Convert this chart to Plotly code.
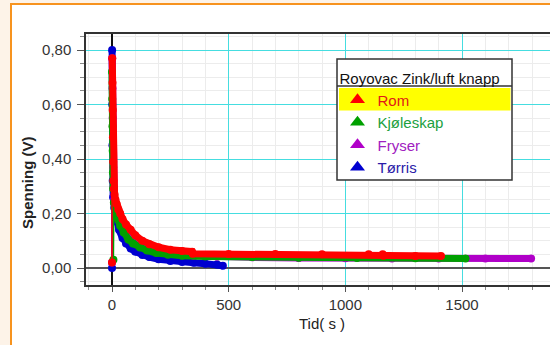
import plotly.graph_objects as go

# ---------------- data ----------------
rom_t = [0, 1, 2, 3, 4, 5, 6, 8, 11, 15, 20, 27, 35, 45, 60, 80, 100, 130, 160, 200,
         250, 300, 343, 346, 500, 700, 900, 1100, 1160, 1163, 1300, 1410]
rom_v = [0.02, 0.77, 0.68, 0.58, 0.48, 0.39, 0.32, 0.29, 0.27, 0.25, 0.235, 0.215, 0.20, 0.18,
         0.16, 0.14, 0.12, 0.10, 0.087, 0.076, 0.067, 0.062, 0.06, 0.052, 0.051, 0.051, 0.05,
         0.05, 0.05, 0.045, 0.044, 0.044]

kjol_t = [0, 1, 2, 3, 4, 5, 6, 8, 12, 18, 25, 35, 50, 70, 90, 120, 150, 190, 240, 300,
          400, 600, 800, 1050, 1300, 1515]
kjol_v = [0.72, 0.62, 0.52, 0.43, 0.35, 0.29, 0.03, 0.24, 0.22, 0.20, 0.18, 0.155, 0.13, 0.105,
          0.09, 0.075, 0.064, 0.055, 0.049, 0.045, 0.042, 0.04, 0.038, 0.037, 0.036, 0.035]

frys_t = [0, 1, 2, 3, 4, 5, 7, 10, 15, 20, 30, 45, 60, 80, 100, 130, 170, 220, 280, 350,
          450, 600, 800, 1000, 1200, 1400, 1600, 1796]
frys_v = [0.02, 0.77, 0.66, 0.55, 0.45, 0.37, 0.30, 0.25, 0.22, 0.20, 0.175, 0.15, 0.13, 0.11,
          0.095, 0.08, 0.068, 0.058, 0.05, 0.045, 0.041, 0.039, 0.037, 0.036, 0.035, 0.035,
          0.035, 0.035]

torr_t = [0, 0.5, 1, 2, 3, 5, 10, 20, 30, 45, 60, 80, 100, 130, 160, 200, 250, 300, 350,
          400, 450, 475]
torr_v = [0.0, 0.80, 0.60, 0.45, 0.32, 0.26, 0.22, 0.17, 0.14, 0.11, 0.09, 0.072, 0.06, 0.048,
          0.04, 0.032, 0.026, 0.022, 0.019, 0.016, 0.013, 0.008]

series_names = ["Tørris", "Fryser", "Kjøleskap", "Rom"]
series_t = [torr_t, frys_t, kjol_t, rom_t]
series_v = [torr_v, frys_v, kjol_v, rom_v]
series_colors = ["#0000d0", "#b000c8", "#00a000", "#ff0000"]
text_colors = ["#2a1aa8", "#a020c0", "#20a040", "#e01818"]
jump_points = [[0], [0], [6], [0]]  # points joined only by the thin connecting line

y_ticks = [0.0, 0.2, 0.4, 0.6, 0.8]
x_ticks = [0, 500, 1000, 1500]
legend_title = "Royovac Zink/luft knapp"

# ---------------- figure ----------------
W, H = 550, 345
ML, MT, MB, MR = 86, 34, 60, 0
PW, PH = W - ML - MR, H - MT - MB


def px(x):
    return (x - ML) / PW


def py(y):
    return (H - MB - y) / PH


fig = go.Figure()

for name, t, v, col, jumps in zip(series_names, series_t, series_v, series_colors, jump_points):
    band = [None if i in jumps else val for i, val in enumerate(v)]
    fig.add_trace(go.Scatter(x=t, y=band, mode="lines", line=dict(color=col, width=7),
                             connectgaps=False, showlegend=False, hoverinfo="skip"))
    fig.add_trace(go.Scatter(x=t, y=v, mode="lines+markers", line=dict(color=col, width=1.5),
                             marker=dict(color=col, size=8), showlegend=False, name=name))

# legend entries (triangle markers, coloured text)
for name, col, tcol in zip(series_names, series_colors, text_colors):
    fig.add_trace(go.Scatter(x=[None], y=[None], mode="markers",
                             marker=dict(symbol="triangle-up", size=13, color=col),
                             name=f"<span style='color:{tcol}'>{name}</span>"))

font = "Liberation Sans, Arial, sans-serif"

fig.update_layout(
    width=W, height=H,
    margin=dict(l=ML, r=MR, t=MT, b=MB),
    paper_bgcolor="#fdf3e8",
    plot_bgcolor="white",
    separators=",.",
    font=dict(family=font, size=15, color="#333333"),
    legend=dict(
        x=px(337.5), y=py(64), xanchor="left", yanchor="top",
        bgcolor="rgba(0,0,0,0)", borderwidth=0,
        traceorder="reversed",
        title=dict(text=legend_title, font=dict(size=15, color="#111111")),
        font=dict(size=15),
    ),
    xaxis=dict(
        range=[-111.4, 1877], tickvals=x_ticks, tickformat="d",
        showgrid=True, gridcolor="#45dde0", gridwidth=1.2,
        zeroline=True, zerolinecolor="#111111", zerolinewidth=1.5,
        showline=True, linecolor="#333333", linewidth=1.5, mirror=True,
        ticks="outside", ticklen=5, tickcolor="#555555",
        ticklabelstandoff=0,
        minor=dict(dtick=100, tick0=0, ticks="outside", ticklen=3, tickcolor="#888888",
                   showgrid=True, gridcolor="#ececec", gridwidth=1),
    ),
    yaxis=dict(
        range=[-0.0624, 0.8587], tickvals=y_ticks, tickformat=".2f",
        showgrid=True, gridcolor="#45dde0", gridwidth=1.2,
        zeroline=True, zerolinecolor="#555555", zerolinewidth=2,
        showline=True, linecolor="#333333", linewidth=1.5, mirror=False,
        ticks="outside", ticklen=7, tickcolor="#555555",
        ticklabelstandoff=3,
        minor=dict(dtick=0.05, tick0=0, ticks="outside", ticklen=4, tickcolor="#888888",
                   showgrid=True, gridcolor="#ececec", gridwidth=1),
    ),
    shapes=[
        # orange frame of the panel
        dict(type="rect", xref="paper", yref="paper", layer="below",
             x0=px(11), x1=px(600), y0=py(400), y1=py(4),
             line=dict(color="#f7931e", width=2), fillcolor="white"),
        # legend box, highlight and separator
        dict(type="rect", xref="paper", yref="paper", layer="above",
             x0=px(337), x1=px(512), y0=py(180), y1=py(59),
             line=dict(color="#333333", width=1.5), fillcolor="white"),
        dict(type="rect", xref="paper", yref="paper", layer="above",
             x0=px(339), x1=px(510.5), y0=py(110.5), y1=py(88),
             line=dict(width=0), fillcolor="#ffff00"),
        dict(type="line", xref="paper", yref="paper", layer="above",
             x0=px(337), x1=px(512), y0=py(86), y1=py(86),
             line=dict(color="#333333", width=1.5)),
    ],
    annotations=[
        dict(text="<b>Spenning (V)</b>", xref="paper", yref="paper", x=px(28), y=py(183),
             textangle=-90, showarrow=False, font=dict(size=15, color="#222222"),
             xanchor="center", yanchor="middle"),
        dict(text="Tid( s )", xref="paper", yref="paper", x=px(322), y=py(323),
             showarrow=False, font=dict(size=15, color="#222222"),
             xanchor="center", yanchor="middle"),
    ],
)

fig.write_html("out.html")
